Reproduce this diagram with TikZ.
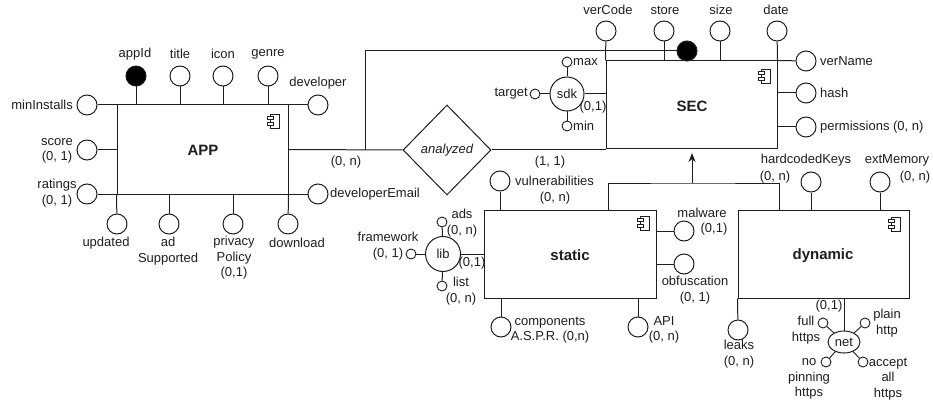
\documentclass[tikz,border=0pt]{standalone}
\usepackage{fontspec}
\setmainfont{Liberation Sans}
\usetikzlibrary{shapes.geometric,arrows.meta}
\definecolor{ink}{RGB}{30,30,30}
\tikzset{
  lbl/.style={inner sep=0pt, font=\fontsize{13}{15.5}\selectfont, text=ink, align=center},
  ttl/.style={inner sep=0pt, font=\fontsize{15}{18}\selectfont\bfseries, text=ink},
  attr/.style={circle, draw=ink, line width=1pt, minimum size=20pt, inner sep=0pt, fill=white},
  keyattr/.style={attr, fill=black},
  sattr/.style={circle, draw=ink, line width=0.9pt, minimum size=10pt, inner sep=0pt, fill=white},
  entity/.style={draw=ink, line width=1pt, rectangle, inner sep=0pt},
  conn/.style={draw=ink, line width=1pt},
  compicon/.pic={
    \draw[ink, line width=0.8pt] (-3,-7) rectangle (6,7);
    \draw[ink, line width=0.8pt, fill=white] (-6,-4.5) rectangle (0,-1.5);
    \draw[ink, line width=0.8pt, fill=white] (-6,1.5) rectangle (0,4.5);
  }
}
\begin{document}
\begin{tikzpicture}[x=1pt, y=-1pt]
\useasboundingbox (0,0) rectangle (933,406);

% ---------------- APP ----------------
\node[entity, minimum width=171pt, minimum height=89pt] (app) at (202.5,149.5) {};
\node[ttl] (appT) at (203,150) {APP};
\pic at (273,121) {compicon};

\node[keyattr] (appId) at (136,76) {};
\node[attr] (title) at (180,76) {};
\node[attr] (icon) at (223,76) {};
\node[attr] (genre) at (268,76) {};
\node[attr] (minInstalls) at (87,105) {};
\node[attr] (developer) at (318,105) {};
\node[attr] (score) at (87,150) {};
\node[attr] (ratings) at (87,194) {};
\node[attr] (devEmail) at (318,194) {};
\node[attr] (updated) at (117,224) {};
\node[attr] (adSup) at (169,224) {};
\node[attr] (privacy) at (233,224) {};
\node[attr] (download) at (288,224) {};

\draw[conn] (minInstalls) -- (developer);
\draw[conn] (ratings) -- (devEmail);
\draw[conn] (score) -- (score -| app.west);
\foreach \a in {appId,title,icon,genre}{\draw[conn] (\a) -- (\a |- app.north);}
\foreach \a in {adSup,privacy}{\draw[conn] (\a) -- (\a |- app.south);}
\draw[conn] (app.south west) -- (updated);
\draw[conn] (app.south east) -- (download);

\node[lbl] (l-appId) at (135,54) {appId};
\node[lbl] (l-title) at (180,54) {title};
\node[lbl] (l-icon) at (223,54) {icon};
\node[lbl] (l-genre) at (268,54) {genre};
\node[lbl] (l-developer) at (318,83) {developer};
\node[lbl, anchor=east] (l-minInstalls) at (73,105) {minInstalls};
\node[lbl] (l-score) at (57,151) {score\\(0, 1)};
\node[lbl] (l-ratings) at (57,193) {ratings\\(0, 1)};
\node[lbl] (l-updated) at (106,243) {updated};
\node[lbl] (l-adSup) at (168,251) {ad\\Supported};
\node[lbl] (l-privacy) at (234,258) {privacy\\Policy\\(0,1)};
\node[lbl] (l-download) at (297,243) {download};
\node[lbl, anchor=west] (l-devEmail) at (330,194) {developerEmail};

% ---------------- analyzed ----------------
\node[diamond, draw=ink, line width=1pt, minimum width=88pt, minimum height=90pt, inner sep=0pt, aspect=1] (analyzed) at (447,150) {};
\node[lbl, font=\fontsize{13}{15}\selectfont\itshape] (l-analyzed) at (447,150) {analyzed};
\coordinate (loopstart) at (365,150);
\draw[conn] (app.east) -- (analyzed.west);
\node[lbl] (l-card1) at (346,162) {(0, n)};
\node[lbl] (l-card2) at (550,162) {(1, 1)};

% ---------------- SEC ----------------
\node[entity, minimum width=171pt, minimum height=88pt] (sec) at (691.5,105) {};
\node[ttl] (secT) at (692,106) {SEC};
\pic at (764,76) {compicon};

\node[attr] (verCode) at (606,31) {};
\node[attr] (store) at (664,31) {};
\node[attr] (size) at (720,31) {};
\node[attr] (date) at (777,31) {};
\node[keyattr] (secKey) at (687,51) {};
\node[attr] (verName) at (806,61) {};
\node[attr] (hash) at (806,93) {};
\node[attr] (perm) at (806,127) {};

\draw[conn] (verCode) -- (sec.north west);
\draw[conn] (store) -- (store |- sec.north);
\draw[conn] (size) -- (size |- sec.north);
\draw[conn] (date) -- (sec.north east);
\draw[conn] (sec.north east) -- (verName);
\draw[conn] (hash) -- (hash -| sec.east);
\draw[conn] (perm) -- (perm -| sec.east);
\draw[conn] (loopstart) |- (secKey);
\draw[conn] (analyzed.east) -- (analyzed.east -| sec.west);

\node[lbl] (l-verCode) at (608,10) {verCode};
\node[lbl] (l-store) at (665,10) {store};
\node[lbl] (l-size) at (721,10) {size};
\node[lbl] (l-date) at (776,10) {date};
\node[lbl, anchor=west] (l-verName) at (820,61) {verName};
\node[lbl, anchor=west] (l-hash) at (820,93) {hash};
\node[lbl, anchor=west] (l-perm) at (820,127) {permissions (0, n)};

% sdk
\node[circle, draw=ink, line width=1pt, minimum size=34pt, inner sep=0pt, fill=white] (sdk) at (567,94) {};
\node[lbl] (l-sdk) at (567,94) {sdk};
\node[sattr] (max) at (567,62) {};
\node[sattr] (min) at (567,126) {};
\node[sattr] (target) at (535,94) {};
\draw[conn] (sdk) -- (sdk -| sec.west);
\draw[conn] (max) -- (sdk);
\draw[conn] (min) -- (sdk);
\draw[conn] (target) -- (sdk);
\node[lbl, anchor=west] (l-max) at (573,62) {max};
\node[lbl, anchor=west] (l-min) at (573,126) {min};
\node[lbl, anchor=east] (l-target) at (528,94) {target};
\node[lbl] (l-sdkcard) at (593,107) {(0,1)};

% ---------------- static ----------------
\node[entity, minimum width=172pt, minimum height=88pt] (static) at (570,254) {};
\node[ttl] (staticT) at (570,255) {static};
\pic at (643,223) {compicon};

\node[attr] (vuln) at (500,181) {};
\node[attr] (malware) at (684,231) {};
\node[attr] (obf) at (684,264) {};
\node[attr] (components) at (501,327) {};
\node[attr] (api) at (638,327) {};
\draw[conn] (vuln) -- (vuln |- static.north);
\draw[conn] (malware) -- (malware -| static.east);
\draw[conn] (obf) -- (obf -| static.east);
\draw[conn] (components) -- (components |- static.south);
\draw[conn] (api) -- (api |- static.south);

\node[lbl, anchor=west] (l-vuln) at (515,181) {vulnerabilities};
\node[lbl] (l-vulncard) at (555,198) {(0, n)};
\node[lbl] (l-malware) at (702,213) {malware};
\node[lbl] (l-malwarecard) at (714,229) {(0,1)};
\node[lbl] (l-obf) at (695,290) {obfuscation\\(0, 1)};
\node[lbl] (l-components) at (550,330) {components\\A.S.P.R. (0,n)};
\node[lbl] (l-api) at (664,330) {API\\(0, n)};

% lib
\node[circle, draw=ink, line width=1pt, minimum size=35pt, inner sep=0pt, fill=white] (lib) at (443,254) {};
\node[lbl] (l-lib) at (443,254) {lib};
\node[sattr] (ads) at (442,222) {};
\node[sattr] (list) at (442,286) {};
\node[sattr] (framework) at (411,254) {};
\draw[conn] (lib) -- (lib -| static.west);
\draw[conn] (ads) -- (lib);
\draw[conn] (list) -- (lib);
\draw[conn] (framework) -- (lib);
\node[lbl] (l-ads) at (462,223) {ads\\(0, n)};
\node[lbl] (l-list) at (461,291) {list\\(0, n)};
\node[lbl] (l-framework) at (388,246) {framework\\(0, 1)};
\node[lbl] (l-libcard) at (472,263) {(0,1)};

% ---------------- dynamic ----------------
\node[entity, minimum width=171pt, minimum height=88pt] (dynamic) at (823.5,254) {};
\node[ttl] (dynamicT) at (823,256) {dynamic};
\pic at (894,224) {compicon};

\node[attr] (hkeys) at (811,182) {};
\node[attr] (extmem) at (880,182) {};
\node[attr] (leaks) at (738,330) {};
\draw[conn] (hkeys) -- (hkeys |- dynamic.north);
\draw[conn] (extmem) -- (extmem |- dynamic.north);
\draw[conn] (dynamic.south west) -- (leaks);

\node[lbl] (l-hkeys) at (806,160) {hardcodedKeys};
\node[lbl] (l-hkeyscard) at (775,177) {(0, n)};
\node[lbl] (l-extmem) at (897,160) {extMemory};
\node[lbl] (l-extmemcard) at (915,177) {(0, n)};
\node[lbl] (l-leaks) at (739,354) {leaks\\(0, n)};

% net
\node[ellipse, draw=ink, line width=1pt, minimum width=32pt, minimum height=22pt, inner sep=0pt, fill=white] (net) at (844,342) {};
\node[lbl] (l-net) at (844,342) {net};
\draw[conn] (net) -- (net |- dynamic.south);
\node[lbl] (l-netcard) at (829,306) {(0,1)};
\node[sattr] (fullhttps) at (823,323) {};
\node[sattr] (plainhttp) at (865,323) {};
\node[sattr] (nopin) at (826,362) {};
\node[sattr] (acceptall) at (863,362) {};
\foreach \a in {fullhttps,plainhttp,nopin,acceptall}{\draw[conn, line width=0.9pt] (\a) -- (net);}
\node[lbl] (l-full) at (806,330) {full\\https};
\node[lbl] (l-plain) at (887,323) {plain\\http};
\node[lbl] (l-nopin) at (809,379) {no\\pinning\\https};
\node[lbl] (l-accept) at (888,379) {accept\\all\\https};

% ---------------- generalisation arrow ----------------
\coordinate (join) at (692,183);
\coordinate (tip) at (692,153);
\coordinate (sj) at (608,210);
\coordinate (dj) at (779,210);
\draw[conn, -{Stealth[length=9pt, width=7pt]}] (join) -- (tip);
\draw[conn] (sj) |- (join) -| (dj);
\end{tikzpicture}
\end{document}
